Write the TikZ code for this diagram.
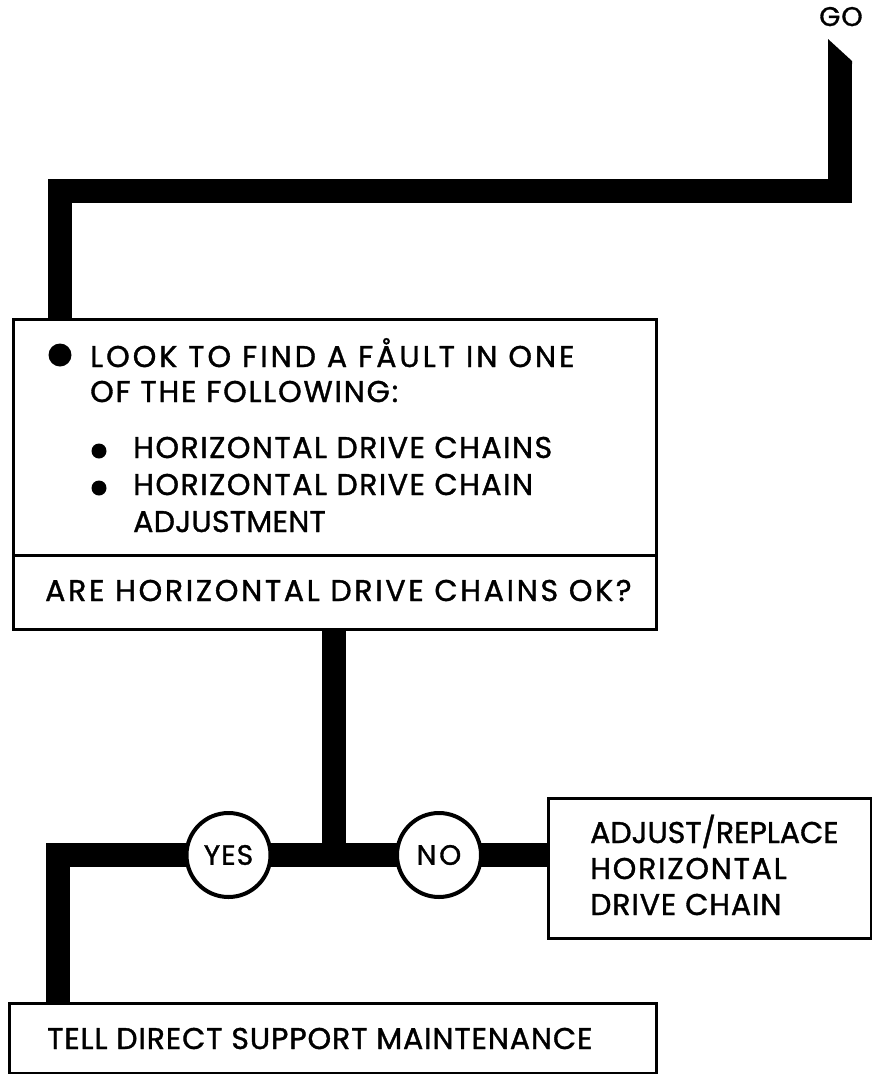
\documentclass[tikz,border=0pt]{standalone}
\usepackage{fontspec}
\setmainfont{Poppins}[FakeBold=1.2]
\usetikzlibrary{backgrounds}
\begin{document}
\begin{tikzpicture}[x=1pt,y=1pt,
  box/.style={draw, line width=3pt, fill=white, rectangle, inner sep=0pt, anchor=north west},
  ans/.style={draw, circle, line width=4pt, fill=white, minimum size=84pt, inner sep=0pt, font=\fontsize{28}{28}\selectfont\addfontfeature{LetterSpace=#1}},
  ans/.default=0,
  txt/.style={anchor=base west, inner sep=0pt, font=\fontsize{30}{30}\selectfont\addfontfeature{LetterSpace=#1}},
  txt/.default=0,
  flow/.style={line width=24pt, line join=miter, line cap=butt},
  bigdot/.style={circle, fill=black, inner sep=0pt, minimum size=23pt},
  smalldot/.style={circle, fill=black, inner sep=0pt, minimum size=15pt}]
\useasboundingbox (0,0) rectangle (872,-1074);

% start
\node[font=\fontsize{27}{27}\selectfont\addfontfeature{LetterSpace=4}, inner sep=0pt, anchor=base] (go) at (841,-26) {GO};
\coordinate (gobar) at (840,-62);
\fill (828,-39) -- (852,-61) -- (852,-64) -- (828,-64) -- cycle;

% main box
\node[box, minimum width=643pt, minimum height=310pt] (main) at (12,-318) {};
\coordinate (split) at (0,-555);
\draw[line width=3pt] (main.west |- split) -- (main.east |- split);
\node[bigdot] (b1) at (60,-355) {};
\node[txt=10] (l1) at (90,-367) {LOOK TO FIND A FÅULT IN ONE};
\node[txt=6] (l2) at (90,-402) {OF THE FOLLOWING:};
\node[smalldot] (b2) at (99,-451) {};
\node[txt=5] (l3) at (133,-458) {HORIZONTAL DRIVE CHAINS};
\node[smalldot] (b3) at (99,-488) {};
\node[txt=5] (l4) at (133,-495) {HORIZONTAL DRIVE CHAIN};
\node[txt=1] (l5) at (133,-532) {ADJUSTMENT};
\node[txt=9] (q) at (45,-601) {ARE HORIZONTAL DRIVE CHAINS OK?};

% answers
\node[ans=4] (yes) at (228.5,-855) {YES};
\node[ans=10] (no) at (439,-855) {NO};

% adjust box
\node[box, minimum width=323pt, minimum height=140pt] (adj) at (547,-797) {};
\node[txt=0] (a1) at (590,-843) {ADJUST/REPLACE};
\node[txt=6] (a2) at (590,-879) {HORIZONTAL};
\node[txt=3] (a3) at (590,-915) {DRIVE CHAIN};

% tell box
\node[box, minimum width=647pt, minimum height=70pt] (tell) at (8,-1002) {};
\node[txt=3] (t1) at (47,-1049) {TELL DIRECT SUPPORT MAINTENANCE};

% connectors
\coordinate (bend1) at (59.5,-190.5);
\coordinate (junc) at (334,-855);
\coordinate (bend2) at (57.5,-855);
\begin{scope}[on background layer]
\draw[flow] (gobar) |- (bend1) -- (bend1 |- main.north);
\draw[flow] (main.south -| junc) -- (junc);
\draw[flow] (adj.west |- junc) -- (bend2) -- (bend2 |- tell.north);
\end{scope}
\end{tikzpicture}
\end{document}
